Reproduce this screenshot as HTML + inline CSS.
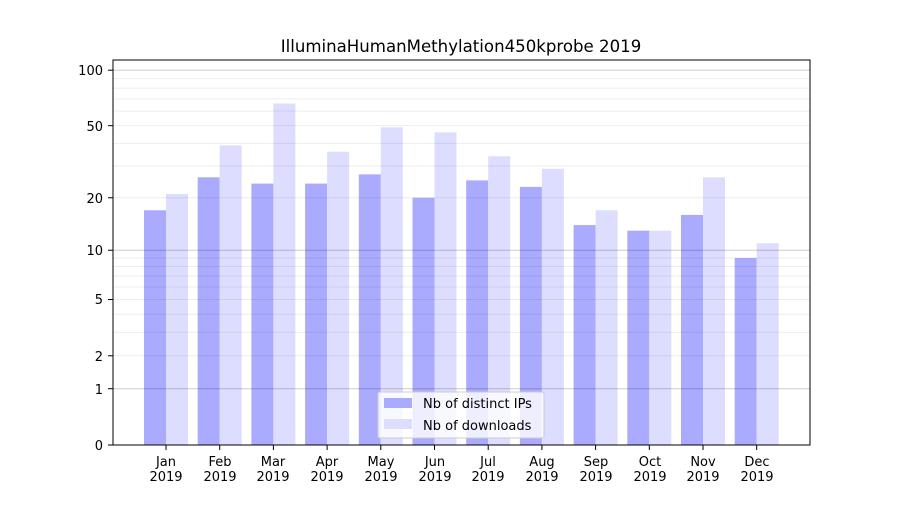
<!DOCTYPE html>
<html><head><meta charset="utf-8"><style>
body{margin:0;background:#fff}
svg text{font-family:"DejaVu Sans","Liberation Sans",sans-serif;font-size:13px;fill:#000}
</style></head><body>
<svg id="s" width="900" height="500" xmlns="http://www.w3.org/2000/svg">
<rect width="900" height="500" fill="#fff"/>
<g id="bars"></g>
<g id="grid"></g>
<rect x="113" y="60" width="697" height="385" fill="none" stroke="#000" stroke-width="1"/>
<text x="461" y="52" text-anchor="middle" style="font-size:16.6px">IlluminaHumanMethylation450kprobe 2019</text>
<g text-anchor="end">
<text x="103" y="450">0</text>
<text x="103" y="394">1</text>
<text x="103" y="361">2</text>
<text x="103" y="304">5</text>
<text x="103" y="255">10</text>
<text x="103" y="203">20</text>
<text x="103" y="131">50</text>
<text x="103" y="75">100</text>
</g>
<g id="xl" text-anchor="middle">
<text x="166" y="466">Jan</text><text x="166" y="481">2019</text>
<text x="220" y="466">Feb</text><text x="220" y="481">2019</text>
<text x="273" y="466">Mar</text><text x="273" y="481">2019</text>
<text x="327" y="466">Apr</text><text x="327" y="481">2019</text>
<text x="381" y="466">May</text><text x="381" y="481">2019</text>
<text x="435" y="466">Jun</text><text x="435" y="481">2019</text>
<text x="488" y="466">Jul</text><text x="488" y="481">2019</text>
<text x="542" y="466">Aug</text><text x="542" y="481">2019</text>
<text x="596" y="466">Sep</text><text x="596" y="481">2019</text>
<text x="650" y="466">Oct</text><text x="650" y="481">2019</text>
<text x="703" y="466">Nov</text><text x="703" y="481">2019</text>
<text x="757" y="466">Dec</text><text x="757" y="481">2019</text>
</g>
<rect x="378" y="392" width="166" height="46" rx="2" fill="#fff" fill-opacity="0.8" stroke="#ccc"/>
<rect x="384" y="398" width="28" height="10" fill="#aaaaff"/>
<rect x="384" y="419" width="28" height="10" fill="#ddddff"/>
<text x="423" y="408">Nb of distinct IPs</text>
<text x="423" y="430">Nb of downloads</text>
</svg>
<script>
var Y=v=>445-187*Math.log10(v+1);
var ns="http://www.w3.org/2000/svg";
function el(p,t,a){var e=document.createElementNS(ns,t);for(var k in a)e.setAttribute(k,a[k]);p.appendChild(e);return e}
var ip=[17,26,24,24,27,20,25,23,14,13,16,9],dl=[21,39,66,36,49,46,34,29,17,13,26,11];
var b=document.getElementById('bars'),g=document.getElementById('grid'),s=document.getElementById('s');
for(var i=0;i<12;i++){var c=166+i*53.7;
el(b,'rect',{x:c-22,y:Y(ip[i]),width:22,height:445-Y(ip[i]),fill:'#aaaaff'});
el(b,'rect',{x:c,y:Y(dl[i]),width:22,height:445-Y(dl[i]),fill:'#ddddff'});
el(s,'line',{x1:c,x2:c,y1:445,y2:450,stroke:'#000'});}
[2,3,4,5,6,7,8,9,20,30,40,50,60,70,80,90].forEach(v=>el(g,'line',{x1:113,x2:810,y1:Y(v),y2:Y(v),stroke:'#000','stroke-opacity':0.07}));
[1,10,100].forEach(v=>el(g,'line',{x1:113,x2:810,y1:Y(v),y2:Y(v),stroke:'#000','stroke-opacity':0.2}));
[0,1,2,5,10,20,50,100].forEach(v=>el(s,'line',{x1:108,x2:113,y1:Y(v),y2:Y(v),stroke:'#000'}));
</script>
</body></html>
